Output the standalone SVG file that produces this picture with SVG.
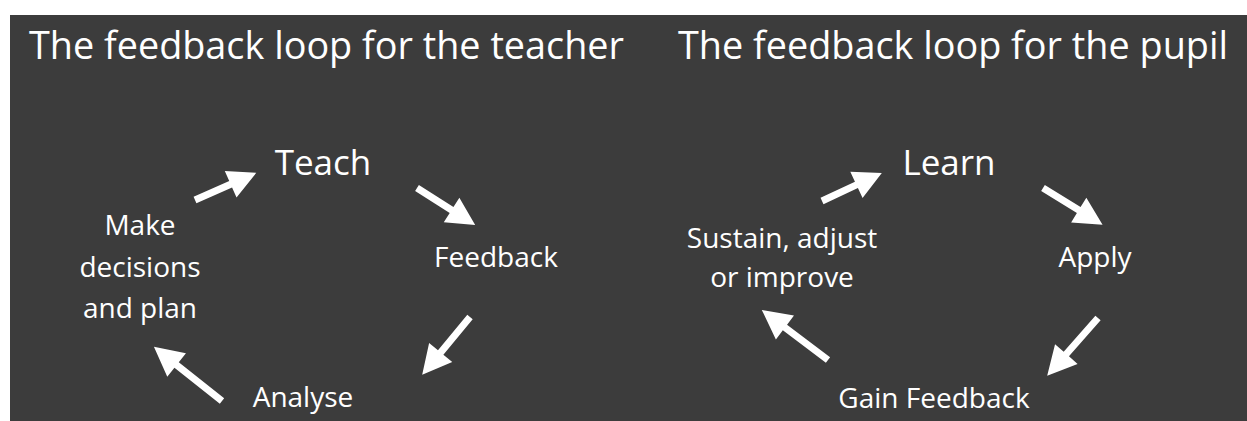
<svg xmlns="http://www.w3.org/2000/svg" width="1247" height="421" viewBox="0 0 1247 421">
  <style>
    text { font-family: "Open Sans", "Noto Sans", "Liberation Sans", sans-serif; fill: #ffffff; }
    .title { font-size: 38px; }
    .main { font-size: 35px; text-anchor: middle; }
    .label { font-size: 28px; text-anchor: middle; }
    .arrow { fill: #ffffff; }
  </style>

  <!-- page background -->
  <rect x="0" y="0" width="1247" height="421" fill="#ffffff"/>
  <rect x="10" y="15" width="1237" height="406" fill="#3c3c3c"/>

  <!-- headings -->
  <g id="title-teacher">
    <text class="title" x="29" y="59" textLength="595" lengthAdjust="spacingAndGlyphs">The feedback loop for the teacher</text>
  </g>
  <g id="title-pupil">
    <text class="title" x="678" y="59" textLength="550" lengthAdjust="spacingAndGlyphs">The feedback loop for the pupil</text>
  </g>

  <!-- teacher loop -->
  <g id="teach"><text class="main" x="323" y="175">Teach</text></g>
  <g id="feedback"><text class="label" x="496" y="267">Feedback</text></g>
  <g id="analyse"><text class="label" x="303" y="407">Analyse</text></g>
  <g id="decide">
    <text class="label" x="140" y="235">Make</text>
    <text class="label" x="140" y="277">decisions</text>
    <text class="label" x="140" y="318">and plan</text>
  </g>

  <!-- pupil loop -->
  <g id="learn"><text class="main" x="949" y="175">Learn</text></g>
  <g id="apply"><text class="label" x="1095" y="267">Apply</text></g>
  <g id="gain-feedback"><text class="label" x="934" y="408">Gain Feedback</text></g>
  <g id="sustain">
    <text class="label" x="782" y="248">Sustain, adjust</text>
    <text class="label" x="782" y="287">or improve</text>
  </g>

  <!-- block arrows: each drawn pointing along +x from its tail, then rotated -->
  <g id="connectors">
    <path class="arrow" transform="translate(195,200) rotate(-23.9)" d="M0,-3.5 H39 V-14.5 L67,0 L39,14.5 V3.5 H0 Z"/>
    <path class="arrow" transform="translate(417,188) rotate(32.5)" d="M0,-3.5 H41 V-14.5 L69,0 L41,14.5 V3.5 H0 Z"/>
    <path class="arrow" transform="translate(470,317) rotate(129.6)" d="M0,-3.5 H46 V-15 L75,0 L46,15 V3.5 H0 Z"/>
    <path class="arrow" transform="translate(222,401) rotate(-141.5)" d="M0,-3.5 H58 V-15 L87,0 L58,15 V3.5 H0 Z"/>

    <path class="arrow" transform="translate(822,201) rotate(-25)" d="M0,-3.5 H38 V-14.5 L66,0 L38,14.5 V3.5 H0 Z"/>
    <path class="arrow" transform="translate(1043,188) rotate(31.7)" d="M0,-3.5 H42 V-14.5 L70,0 L42,14.5 V3.5 H0 Z"/>
    <path class="arrow" transform="translate(1098,318) rotate(131.3)" d="M0,-3.5 H48 V-15 L77,0 L48,15 V3.5 H0 Z"/>
    <path class="arrow" transform="translate(828,360) rotate(-142.9)" d="M0,-3.5 H54 V-15 L83,0 L54,15 V3.5 H0 Z"/>
  </g>
</svg>
